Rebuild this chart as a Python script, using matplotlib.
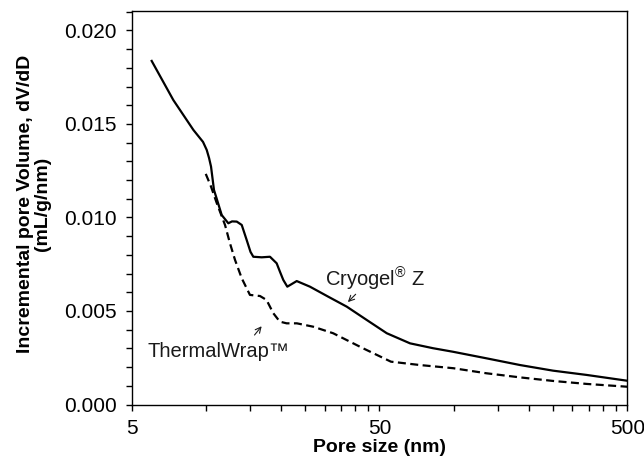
import matplotlib
matplotlib.use("Agg")
import matplotlib.pyplot as plt
from matplotlib.ticker import FixedLocator, MultipleLocator, FormatStrFormatter, NullFormatter

plt.rcParams['font.family'] = ['Liberation Sans', 'DejaVu Sans']
plt.rcParams['mathtext.fontset'] = 'custom'
plt.rcParams['mathtext.rm'] = 'Liberation Sans'

# Cryogel Z (solid)
cryo_x = [6.02, 7.36, 8.87, 9.70, 10.04, 10.26, 10.45, 10.74, 11.0, 11.54, 12.27, 12.7, 13.27,
          13.9, 14.55, 15.08, 15.48, 16.73, 18.07, 19.23, 19.84, 20.45, 21.23, 23.17, 26.2,
          31.1, 36.9, 44.4, 53.5, 66.4, 82.2, 99, 135, 184.5, 250.6, 343, 500]
cryo_y = [0.01837, 0.01628, 0.01468, 0.01404, 0.01361, 0.01318, 0.01272, 0.01147, 0.01103,
          0.01013, 0.00969, 0.00979, 0.00978, 0.0096, 0.0088, 0.00816, 0.0079, 0.00787, 0.0079,
          0.00755, 0.00709, 0.00666, 0.0063, 0.0066, 0.0063, 0.00576, 0.00523, 0.00452,
          0.00381, 0.00327, 0.00301, 0.00282, 0.00247, 0.00211, 0.00181, 0.00158, 0.00127]

# ThermalWrap (dashed)
tw_x = [9.95, 10.45, 11.0, 11.9, 12.46, 13.06, 13.9, 15.0, 16.47, 17.5, 18.64, 19.8, 21.1,
        23.2, 27.0, 32.5, 43.0, 55.6, 72.8, 99.3, 135, 184.5, 250.6, 343, 500]
tw_y = [0.01233, 0.01165, 0.01080, 0.0096, 0.00862, 0.00773, 0.00675, 0.00586, 0.0058,
        0.00559, 0.00488, 0.00443, 0.00434, 0.00434, 0.00416, 0.00381, 0.003, 0.00229,
        0.00211, 0.00194, 0.00167, 0.00145, 0.00126, 0.0011, 0.00095]

major_x = [5, 50, 500]
major_x_labels = ['5', '50', '500']
minor_x = [10, 15, 20, 25, 30, 35, 40, 45, 100, 150, 200, 250, 300, 350, 400, 450]

fig = plt.figure(figsize=(6.44, 4.65), dpi=100)
ax = fig.add_axes([131.7/644, 1-404.5/465, (627.3-131.7)/644, (404.5-11)/465])

ax.plot(cryo_x, cryo_y, color='black', lw=1.6, solid_joinstyle='round')
ax.plot(tw_x, tw_y, color='black', lw=1.6, dashes=(3.6, 2.0))

ax.set_xscale('log')
ax.set_xlim(5, 500)
ax.set_ylim(0, 0.02104)
ax.xaxis.set_major_locator(FixedLocator(major_x))
ax.xaxis.set_minor_locator(FixedLocator(minor_x))
ax.set_xticklabels(major_x_labels)
ax.xaxis.set_minor_formatter(NullFormatter())
ax.yaxis.set_major_locator(MultipleLocator(0.005))
ax.yaxis.set_minor_locator(MultipleLocator(0.001))
ax.yaxis.set_major_formatter(FormatStrFormatter('%.3f'))

ax.tick_params(which='both', direction='out', length=4.5, width=1, color='black',
               labelsize=15, pad=6, top=False, right=False)
for s in ax.spines.values():
    s.set_linewidth(1.0)
    s.set_color('black')

ax.set_xlabel('Pore size (nm)', fontsize=14, fontweight='bold', labelpad=1)
fig.text(34/644, 1-204/465, 'Incremental pore Volume, dV/dD\n(mL/g/nm)', rotation=90,
         ha='center', va='center', fontsize=14, fontweight='bold', multialignment='center',
         linespacing=1.0)

ax.text(47.9, 0.00671, 'Cryogel$^{®}$ Z', fontsize=14.5, ha='center', va='center', color='#1a1a1a')
ax.text(11.2, 0.00283, 'ThermalWrap™', fontsize=14.5, ha='center', va='center', color='#1a1a1a')
ax.annotate('', xy=(36.6, 0.00537), xytext=(40.8, 0.00600),
            arrowprops=dict(arrowstyle='->', lw=0.8, color='#1a1a1a', mutation_scale=10))
ax.annotate('', xy=(17.0, 0.0043), xytext=(15.4, 0.0036),
            arrowprops=dict(arrowstyle='->', lw=0.8, color='#1a1a1a', mutation_scale=10))

fig.savefig('out.png', dpi=100)
